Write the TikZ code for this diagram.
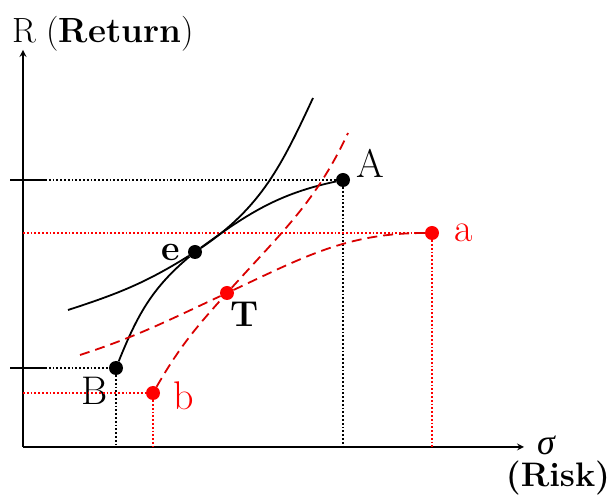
\documentclass[tikz,border=0pt]{standalone}
\usepackage{amsmath}
\usepackage{fontspec}
\newfontfamily\greekfont{Liberation Serif}
\usetikzlibrary{arrows, arrows.meta, positioning}
\tikzstyle{dot}    = [circle, fill=black, inner sep=0pt, minimum size=14pt]
\tikzstyle{rdot}   = [dot, fill=red]
\tikzstyle{axis}   = [line width=2pt, ->, >=stealth]
\tikzstyle{tick}   = [line width=2pt]
\tikzstyle{curve}  = [line width=1.8pt]
\tikzstyle{rcurve} = [line width=1.8pt, red!85!black, dash pattern=on 10pt off 6pt]
\tikzstyle{guide}  = [line width=1.8pt, dotted]
\tikzstyle{rguide} = [guide, red]
\tikzstyle{lab}    = [inner sep=0pt, font=\fontsize{40}{44}\selectfont]
\tikzstyle{blab}   = [inner sep=0pt, font=\fontsize{36}{40}\selectfont\bfseries]

\begin{document}
\begin{tikzpicture}[x=1pt, y=1pt]
  \useasboundingbox (0,0) rectangle (614,501);

  % Axes
  \coordinate (O) at (23,54);
  \coordinate (ytop) at (23,451);
  \coordinate (xend) at (524,54);
  \draw[axis] (O) -- (ytop);
  \draw[axis] (O) -- (xend);
  \node (ylab) [inner sep=0pt, anchor=base west, font=\fontsize{35}{40}\selectfont]
        at (12,458) {R (\textbf{Return})};
  \node (sig) [inner sep=0pt, right=13pt of xend, yshift=2pt,
               font=\fontsize{36}{40}\selectfont\greekfont\itshape] {σ};
  \node (risk) [inner sep=0pt, font=\fontsize{34}{40}\selectfont\bfseries] at (558,23) {(Risk)};

  % Points
  \node (A) [dot]  at (343,321) {};
  \node (B) [dot]  at (116,133) {};
  \node (e) [dot]  at (195,249) {};
  \node (T) [rdot] at (227,208) {};
  \node (a) [rdot] at (432,268) {};
  \node (b) [rdot] at (153,108) {};

  \node (labA) [lab, right=6pt of A, yshift=17pt] {A};
  \node (labB) [lab, left=1pt of B, yshift=-23pt] {B};
  \node (laba) [lab, right=15pt of a, red] {a};
  \node (labb) [lab, right=13pt of b, yshift=-3pt, red] {b};
  \node (labe) [blab, left=8pt of e] {e};
  \node (labT) [blab, right=-4pt of T, yshift=-21pt] {T};

  % Guide lines
  \coordinate (tA0) at (10,321);
  \coordinate (tA1) at (45,321);
  \coordinate (tB0) at (10,133);
  \coordinate (tB1) at (45,133);
  \draw[tick] (tA0) -- (tA1);
  \draw[tick] (tB0) -- (tB1);
  \draw[guide] (tA1) -- (A);
  \draw[guide] (tB1) -- (B);
  \draw[guide] (A) -- (A |- O);
  \draw[guide] (B) -- (B |- O);
  \draw[rguide] (O |- a) -- (a);
  \draw[rguide] (a) -- (a |- O);
  \draw[rguide] (O |- b) -- (b);
  \draw[rguide] (b) -- (b |- O);

  % Black curves
  \coordinate (k0) at (68,191);
  \coordinate (k1) at (313,403);
  \draw[curve] (B) to[out=68,in=220] (e) to[out=36,in=192] (A);
  \draw[curve] (k0) to[out=18,in=212] (e) to[out=34,in=245] (k1);

  % Red curves
  \coordinate (r0) at (80,146);
  \coordinate (r1) at (348,368);
  \draw[rcurve] (r0) to[out=18,in=205] (T) to[out=25,in=180] (a);
  \draw[rcurve] (b) to[out=60,in=228] (T) to[out=48,in=245] (r1);

\end{tikzpicture}
\end{document}
